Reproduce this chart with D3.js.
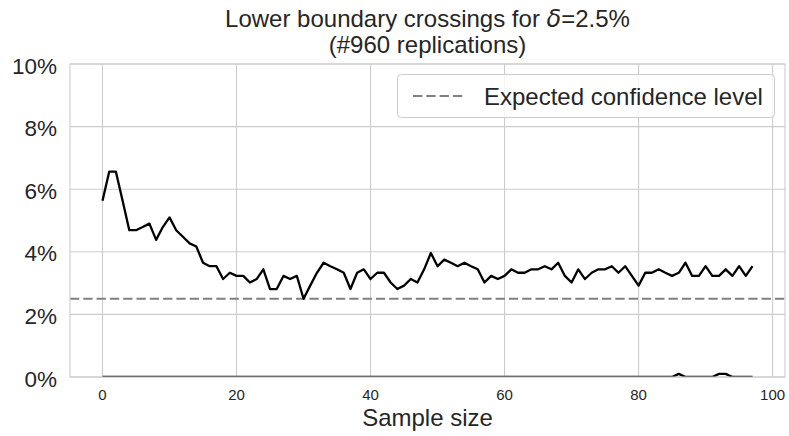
<!DOCTYPE html>
<html>
<head>
<meta charset="utf-8">
<script src="https://cdn.jsdelivr.net/npm/d3@7"></script>
<style>
  html, body { margin: 0; padding: 0; background: #fff; }
  svg { display: block; font-family: "Liberation Sans", Arial, sans-serif; }
</style>
</head>
<body>
<svg id="chart" width="789" height="436"></svg>
<script>
// Sample sizes 0..97
const sampleSizes = d3.range(0, 98);

// Share of replications (in %) crossing the lower boundary, per sample size
const lowerCrossingPct = [
  5.63, 6.56, 6.56, 5.63, 4.69, 4.69, 4.79, 4.90, 4.38, 4.79,
  5.10, 4.69, 4.48, 4.27, 4.17, 3.65, 3.54, 3.54, 3.13, 3.33,
  3.23, 3.23, 3.02, 3.13, 3.44, 2.81, 2.81, 3.23, 3.13, 3.23,
  2.50, 2.92, 3.33, 3.65, 3.54, 3.44, 3.33, 2.81, 3.33, 3.44,
  3.13, 3.33, 3.33, 3.02, 2.81, 2.92, 3.13, 3.02, 3.44, 3.96,
  3.54, 3.75, 3.65, 3.54, 3.65, 3.54, 3.44, 3.02, 3.23, 3.13,
  3.23, 3.44, 3.33, 3.33, 3.44, 3.44, 3.54, 3.44, 3.65, 3.23,
  3.02, 3.44, 3.13, 3.33, 3.44, 3.44, 3.54, 3.33, 3.54, 3.23,
  2.92, 3.33, 3.33, 3.44, 3.33, 3.23, 3.33, 3.65, 3.23, 3.23,
  3.54, 3.23, 3.23, 3.44, 3.23, 3.54, 3.23, 3.54
];

// Share (in %) of replications crossing on the other side; almost always zero
const otherCrossingPct = [
  0, 0, 0, 0, 0, 0, 0, 0, 0, 0,
  0, 0, 0, 0, 0, 0, 0, 0, 0, 0,
  0, 0, 0, 0, 0, 0, 0, 0, 0, 0,
  0, 0, 0, 0, 0, 0, 0, 0, 0, 0,
  0, 0, 0, 0, 0, 0, 0, 0, 0, 0,
  0, 0, 0, 0, 0, 0, 0, 0, 0, 0,
  0, 0, 0, 0, 0, 0, 0, 0, 0, 0,
  0, 0, 0, 0, 0, 0, 0, 0, 0, 0,
  0, 0, 0, 0, 0, 0, 0.10, 0, 0, 0,
  0, 0, 0.10, 0.10, 0, 0, 0, 0
];

const expectedLevelPct = 2.5;
const xTicks = [0, 20, 40, 60, 80, 100];
const yTicks = [0, 2, 4, 6, 8, 10];
const yTickLabels = ["0%", "2%", "4%", "6%", "8%", "10%"];

const svg = d3.select("#chart");
const plot = { left: 70, right: 785, top: 64, bottom: 377 };

const x = d3.scaleLinear().domain([-4.85, 101.85]).range([plot.left, plot.right]);
const y = d3.scaleLinear().domain([0, 10]).range([plot.bottom, plot.top]);

const gridColor = "#cccccc";
const textColor = "#262626";

// clip region for the plotting area
svg.append("defs").append("clipPath").attr("id", "plot-clip")
  .append("rect")
  .attr("x", plot.left).attr("y", plot.top)
  .attr("width", plot.right - plot.left).attr("height", plot.bottom - plot.top);

// grid lines
const grid = svg.append("g");
grid.selectAll("line.v").data(xTicks).join("line")
  .attr("x1", d => x(d)).attr("x2", d => x(d))
  .attr("y1", plot.top).attr("y2", plot.bottom)
  .attr("stroke", gridColor).attr("stroke-width", 1.1);
grid.selectAll("line.h").data(yTicks).join("line")
  .attr("x1", plot.left).attr("x2", plot.right)
  .attr("y1", d => y(d)).attr("y2", d => y(d))
  .attr("stroke", gridColor).attr("stroke-width", 1.1);

// x axis tick labels
svg.append("g").selectAll("text").data(xTicks).join("text")
  .attr("x", d => x(d)).attr("y", 400)
  .attr("text-anchor", "middle")
  .attr("font-size", 15).attr("fill", textColor)
  .text(d => d);

// y axis tick labels
svg.append("g").selectAll("text").data(yTicks).join("text")
  .attr("x", 57).attr("y", d => y(d) + 9.5)
  .attr("text-anchor", "end")
  .attr("font-size", 22.5).attr("fill", textColor)
  .text((d, i) => yTickLabels[i]);

// axis label
svg.append("text")
  .attr("x", (plot.left + plot.right) / 2).attr("y", 426)
  .attr("text-anchor", "middle")
  .attr("font-size", 24).attr("fill", textColor)
  .text("Sample size");

// title
const title = svg.append("text")
  .attr("text-anchor", "middle")
  .attr("font-size", 24).attr("fill", textColor);
const t1 = title.append("tspan").attr("x", (plot.left + plot.right) / 2).attr("y", 27);
t1.append("tspan").text("Lower boundary crossings for ");
t1.append("tspan").attr("font-style", "italic").attr("font-family", "DejaVu Sans").text("δ");
t1.append("tspan").text("=2.5%");
title.append("tspan").attr("x", (plot.left + plot.right) / 2).attr("y", 53)
  .text("(#960 replications)");

const lines = svg.append("g").attr("clip-path", "url(#plot-clip)");

// expected confidence level
lines.append("line")
  .attr("x1", plot.left).attr("x2", plot.right)
  .attr("y1", y(expectedLevelPct)).attr("y2", y(expectedLevelPct))
  .attr("stroke", "#808080").attr("stroke-width", 2)
  .attr("stroke-dasharray", "9.3,4");

const lineGen = d3.line().x((d, i) => x(sampleSizes[i])).y(d => y(d));

lines.append("path").datum(otherCrossingPct)
  .attr("d", lineGen)
  .attr("fill", "none").attr("stroke", "#000").attr("stroke-width", 2.3)
  .attr("stroke-linejoin", "round");

lines.append("path").datum(lowerCrossingPct)
  .attr("d", lineGen)
  .attr("fill", "none").attr("stroke", "#000").attr("stroke-width", 2.3)
  .attr("stroke-linejoin", "round");

// frame
svg.append("rect")
  .attr("x", plot.left).attr("y", plot.top)
  .attr("width", plot.right - plot.left).attr("height", plot.bottom - plot.top)
  .attr("fill", "none").attr("stroke", gridColor).attr("stroke-width", 1.1);

// legend
const legend = svg.append("g");
legend.append("rect")
  .attr("x", 397.5).attr("y", 74.5).attr("width", 377).attr("height", 43)
  .attr("rx", 4).attr("ry", 4)
  .attr("fill", "#fff").attr("fill-opacity", 0.8)
  .attr("stroke", gridColor).attr("stroke-width", 1);
legend.append("line")
  .attr("x1", 413).attr("x2", 465).attr("y1", 96).attr("y2", 96)
  .attr("stroke", "#808080").attr("stroke-width", 2)
  .attr("stroke-dasharray", "9.3,4");
legend.append("text")
  .attr("x", 484).attr("y", 104.5)
  .attr("font-size", 24).attr("fill", textColor)
  .text("Expected confidence level");
</script>
</body>
</html>
